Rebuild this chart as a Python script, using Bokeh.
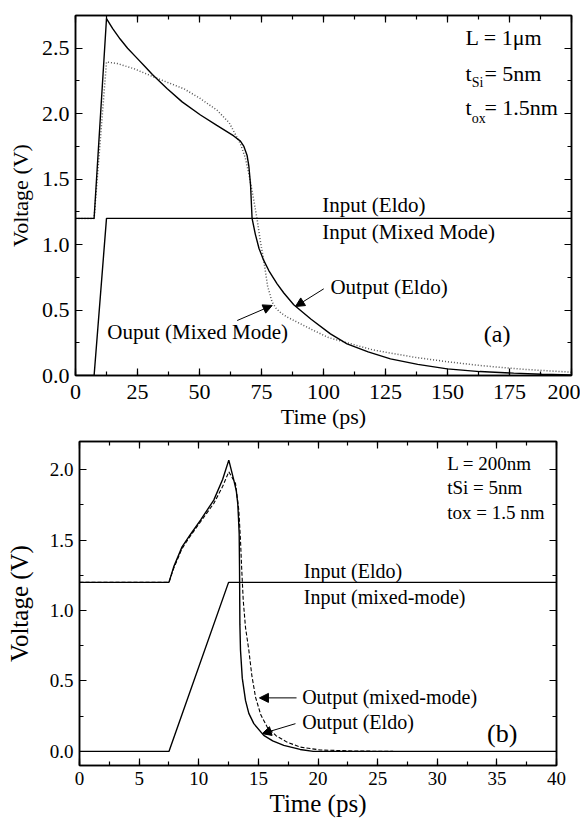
from bokeh.plotting import figure
from bokeh.models import (Range1d, LinearAxis, SingleIntervalTicker, PrintfTickFormatter,
                          ColumnDataSource, Arrow, NormalHead, CustomJSTickFormatter)
from bokeh.core.properties import value
from bokeh.embed import file_html
from bokeh.resources import INLINE

FONT = "Liberation Serif"

# ---------------- data: panel (a) ----------------
t_in_a = [0, 7.5, 12.5, 200]
v_in_a = [0, 0, 1.2, 1.2]

t_eldo_a = [0, 7.5, 12.5, 15, 18, 21, 24.5, 28, 31, 37, 43, 50.4, 57, 63.8, 66.5, 67.9,
            69.2, 69.9, 70.6, 71.2, 72.5, 74, 75.9, 78, 81.3, 84, 88, 95, 102.8, 109.5, 118,
            127, 138, 149.9, 163, 176.7, 188, 200]
v_eldo_a = [1.2, 1.2, 2.727, 2.65, 2.57, 2.50, 2.43, 2.36, 2.30, 2.19, 2.09, 1.99, 1.91,
            1.83, 1.79, 1.75, 1.68, 1.60, 1.45, 1.2, 1.08, 0.97, 0.879, 0.8, 0.70, 0.63,
            0.54, 0.43, 0.318, 0.242, 0.18, 0.127, 0.085, 0.051, 0.03, 0.018, 0.01, 0.005]

t_mixed_a = [0, 7.5, 12.5, 16.8, 23.5, 31.6, 37, 43.7, 50, 57.1, 62, 66.5, 68.5, 69.9, 70.8,
             71.9, 73.3, 74.5, 75.9, 77.5, 79.3, 81, 83, 85.4, 90.7, 96, 102, 109.5, 120,
             136.4, 150, 163.3, 180, 200]
v_mixed_a = [1.2, 1.2, 2.395, 2.383, 2.344, 2.28, 2.24, 2.19, 2.12, 2.026, 1.93, 1.77, 1.66,
             1.54, 1.45, 1.338, 1.185, 1.03, 0.879, 0.68, 0.56, 0.51, 0.475, 0.446, 0.395,
             0.344, 0.29, 0.25, 0.195, 0.14, 0.105, 0.076, 0.048, 0.025]

# ---------------- data: panel (b) ----------------
t_in_b = [0, 7.5, 12.5, 40]
v_in_b = [0, 0, 1.2, 1.2]

t_eldo_b = [0, 7.5, 7.9, 8.6, 9.3, 10.15, 11.26, 12.0, 12.52, 12.94, 13.15, 13.27, 13.33,
            13.39, 13.42, 13.45, 13.5, 13.65, 13.92, 14.2, 14.62, 15.45, 16.2, 17.13, 18.5,
            19.6, 40]
v_eldo_b = [1.2, 1.2, 1.31, 1.452, 1.54, 1.642, 1.784, 1.93, 2.068, 1.926, 1.85, 1.76, 1.66,
            1.547, 1.3, 0.9, 0.72, 0.52, 0.362, 0.27, 0.197, 0.114, 0.075, 0.043, 0.014,
            0.0, 0.0]

t_mixed_b = [0, 7.5, 7.9, 8.6, 9.3, 10.15, 11.26, 12.0, 12.52, 13.08, 13.36, 13.5, 13.6,
             13.73, 13.92, 14.2, 14.45, 14.76, 15.2, 15.74, 16.5, 17.4, 18.5, 20.2, 23, 26.3]
v_mixed_b = [1.2, 1.2, 1.30, 1.44, 1.53, 1.63, 1.76, 1.88, 1.985, 1.903, 1.713, 1.5, 1.3,
             1.073, 0.88, 0.718, 0.54, 0.386, 0.26, 0.173, 0.11, 0.066, 0.031, 0.01, 0.003,
             0.0]

x_ticks_a = 25
x_ticks_b = 5
y_ticks = 0.5


def style(p, xint, fs_ticks, fs_label, x_std, y_lab_std):
    p.xaxis.ticker = SingleIntervalTicker(interval=xint, num_minor_ticks=2)
    p.yaxis.ticker = SingleIntervalTicker(interval=y_ticks, num_minor_ticks=2)
    p.xaxis.formatter = PrintfTickFormatter(format="%d")
    p.yaxis.formatter = PrintfTickFormatter(format="%.1f")
    for ax in [p.xaxis[0], p.yaxis[0]]:
        ax.major_tick_in = 7
        ax.major_tick_out = 0
        ax.minor_tick_in = 4
        ax.minor_tick_out = 0
        ax.axis_line_width = 1.5
        ax.major_tick_line_width = 1.2
        ax.minor_tick_line_width = 1.2
        ax.major_label_text_font = FONT
        ax.major_label_text_font_size = f"{fs_ticks}px"
        ax.major_label_text_color = "black"
        ax.axis_label_text_font = FONT
        ax.axis_label_text_font_size = f"{fs_label}px"
        ax.axis_label_text_font_style = "normal"
        ax.axis_label_text_color = "black"
    p.xaxis.major_label_standoff = x_std
    p.xaxis.axis_label_standoff = 2
    p.yaxis.major_label_standoff = 6
    p.yaxis.axis_label_standoff = y_lab_std
    # mirror axes (ticks only, no labels)
    for loc, tk in [("above", SingleIntervalTicker(interval=xint, num_minor_ticks=2)),
                    ("right", SingleIntervalTicker(interval=y_ticks, num_minor_ticks=2))]:
        ax = LinearAxis(ticker=tk, formatter=CustomJSTickFormatter(code="return ''"),
                        major_label_standoff=0,
                        major_tick_in=7, major_tick_out=0, minor_tick_in=4, minor_tick_out=0,
                        axis_line_width=1.5, major_tick_line_width=1.2,
                        minor_tick_line_width=1.2)
        p.add_layout(ax, loc)
    p.xgrid.visible = False
    p.ygrid.visible = False
    p.outline_line_color = "black"
    p.outline_line_width = 1.5


def texts(p, xs, ys, labels, size, align="left"):
    src = ColumnDataSource(dict(x=xs, y=ys, t=labels))
    p.text(x="x", y="y", text="t", source=src, text_font=value(FONT),
           text_font_size=f"{size}px", text_baseline="middle", text_align=align,
           text_color="black")


def arrow(p, x0, y0, x1, y1):
    p.add_layout(Arrow(end=NormalHead(size=9, fill_color="black", line_color="black",
                                      line_width=1),
                       x_start=x0, y_start=y0, x_end=x1, y_end=y1,
                       line_color="black", line_width=1))


# ---------------- panel (a) ----------------
pa = figure(width=580, height=431, x_range=Range1d(0, 200), y_range=Range1d(0, 2.75),
            output_backend="svg", toolbar_location=None,
            min_border_left=75, min_border_right=9, min_border_top=15, min_border_bottom=56,
            x_axis_label="Time (ps)", y_axis_label="Voltage (V)")
style(pa, x_ticks_a, 22, 22, 9, 6)
pa.line(t_mixed_a, v_mixed_a, line_color="#555555", line_width=1.5, line_dash="1 2")
pa.line(t_eldo_a, v_eldo_a, line_color="black", line_width=1.4)
pa.line(t_in_a, v_in_a, line_color="black", line_width=1.4)

texts(pa, [157.3], [2.582], ["L = 1\u03bcm"], 22)
texts(pa, [157.3, 164.9, 157.3, 164.9], [2.307, 2.307, 2.046, 2.046],
      ["t", "= 5nm", "t", "= 1.5nm"], 22)
texts(pa, [159.8, 159.8], [2.235, 1.962], ["Si", "ox"], 14)
texts(pa, [99.5, 99.5, 102.8, 12.8], [1.299, 1.095, 0.675, 0.331],
      ["Input (Eldo)", "Input (Mixed Mode)", "Output (Eldo)", "Ouput (Mixed Mode)"], 21)
texts(pa, [170], [0.319], ["(a)"], 24, align="center")
arrow(pa, 100.1, 0.662, 88.7, 0.527)
arrow(pa, 65.2, 0.42, 79.3, 0.535)

# ---------------- panel (b) ----------------
pb = figure(width=580, height=391, x_range=Range1d(0, 40), y_range=Range1d(-0.1, 2.2),
            output_backend="svg", toolbar_location=None,
            min_border_left=79, min_border_right=24, min_border_top=10, min_border_bottom=57,
            x_axis_label="Time (ps)", y_axis_label="Voltage (V)")
style(pb, x_ticks_b, 19, 25, 6, 14)
pb.line(t_mixed_b, v_mixed_b, line_color="black", line_width=1.1, line_dash="4 2")
pb.line(t_eldo_b, v_eldo_b, line_color="black", line_width=1.4)
pb.line(t_in_b, v_in_b, line_color="black", line_width=1.4)

texts(pb, [30.83, 30.83, 30.83], [2.042, 1.872, 1.698],
      ["L = 200nm", "tSi = 5nm", "tox = 1.5 nm"], 19)
texts(pb, [18.81, 18.81, 18.67, 18.67], [1.28, 1.095, 0.385, 0.208],
      ["Input (Eldo)", "Input (mixed-mode)", "Output (mixed-mode)", "Output (Eldo)"], 20)
texts(pb, [35.45], [0.126], ["(b)"], 26, align="center")
arrow(pb, 18.2, 0.38, 15.09, 0.38)
arrow(pb, 18.11, 0.197, 15.32, 0.126)

open("out.html", "w").write(file_html([pa, pb], INLINE))
